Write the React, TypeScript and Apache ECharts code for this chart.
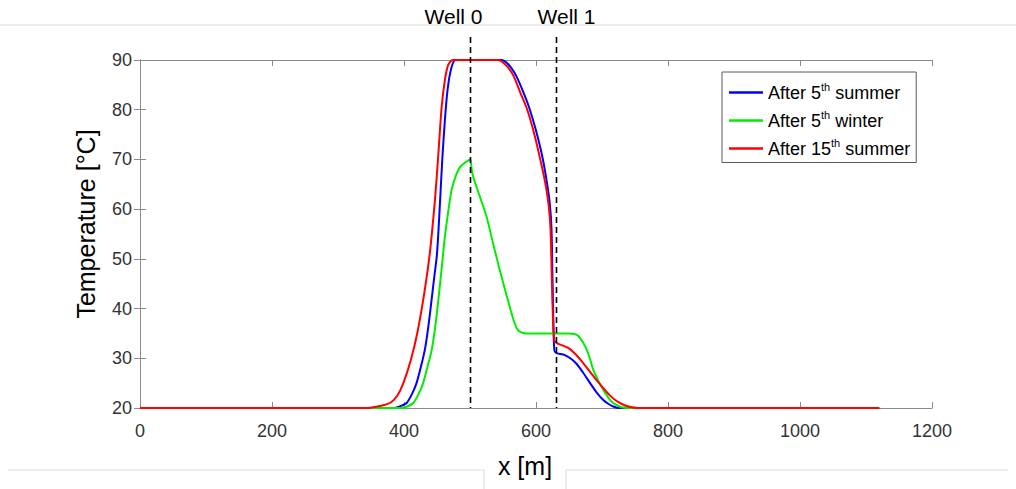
import React, { useEffect, useRef } from "react";
import * as echarts from "echarts";

// ---- data ----
const seriesNames = ["After 5th summer", "After 5th winter", "After 15th summer"];
const seriesColors = ["#0000ff", "#00ee00", "#ff0000"];

const xBlue = [0, 385, 395, 404, 412, 419, 426, 432, 437, 442, 446, 450, 454, 458, 462, 466, 471, 478, 548, 556, 563, 570, 580, 590, 600, 610, 617, 621, 623.5, 625, 626.5, 628, 632, 640, 646, 654, 662, 672, 682, 692, 702, 710, 717, 725, 1120];
const tBlue = [20, 20, 20.4, 21, 22.8, 25, 28.5, 32, 36.5, 42, 46.5, 51, 60, 70, 78, 84, 88, 90, 90, 89.4, 88.3, 86.8, 83.8, 80.3, 75.8, 70.3, 65, 61, 56, 46, 36, 31.5, 31, 30.8, 30.5, 29.8, 28.8, 27, 25, 23.1, 21.6, 20.8, 20.3, 20, 20];

const xGreen = [0, 395, 405, 414, 422, 429, 436, 442, 447, 452, 457, 462, 467, 472, 478, 485, 493, 500, 503, 506, 508, 515, 525, 535, 545, 556, 562, 566, 571, 576, 585, 596, 630, 650, 658, 663, 667, 672, 677, 682, 687, 695, 702, 710, 717, 725, 732, 742, 1120];
const tGreen = [20, 20, 20.3, 21, 22.8, 25, 28.5, 31.7, 36, 41.7, 48, 54.5, 59.5, 63.8, 66.5, 68.5, 69.4, 70, 67.5, 66, 65.2, 62.5, 58.5, 53.1, 47.8, 42.4, 39.5, 37.7, 36, 35.3, 35, 35, 35, 35, 34.9, 34.6, 34, 33, 31.7, 29.8, 27.6, 25.3, 23.6, 22, 21, 20.4, 20.1, 20, 20];

const xRed = [0, 345, 360, 370, 380, 390, 399, 410, 420, 430, 439, 447, 452, 457, 462, 467, 474, 543, 550, 557, 566, 576, 586, 596, 606, 614, 619, 622, 624, 626, 628, 632, 640, 650, 660, 670, 680, 690, 700, 710, 720, 730, 740, 755, 1120];
const tRed = [20, 20, 20.3, 20.6, 21.1, 22.5, 25, 29.5, 35, 42.5, 51, 62, 71, 80.5, 86, 89, 90, 90, 89.5, 88.6, 86.8, 83.5, 80.3, 75.8, 70.3, 65.3, 61, 56, 46, 37, 33.5, 33, 32.6, 32, 30.8, 29.3, 27.6, 25.9, 24.3, 22.8, 21.6, 20.8, 20.3, 20, 20];

const wellNames = ["Well 0", "Well 1"];
const wellX = [500, 630];

const xTicks = { min: 0, max: 1200, interval: 200 };
const yTicks = { min: 20, max: 90, interval: 10 };

const seriesX = [xBlue, xGreen, xRed];
const seriesT = [tBlue, tGreen, tRed];

const FONT = "'Liberation Sans', Arial, Helvetica, sans-serif";
const AXIS_COLOR = "#8a8a8a";
const TEXT_COLOR = "#333333";
const FRAME_GRAY = "#d9d9d9";

function legendFmt(name: string) {
  const m = name.match(/^(After \d+)(th)( \w+)$/);
  if (!m) return name;
  return `{a|${m[1]}}{s|${m[2]}}{a|${m[3]}}`;
}

export default function App() {
  const ref = useRef<HTMLDivElement>(null);

  useEffect(() => {
    if (!ref.current) return;
    const chart = echarts.init(ref.current, null, { renderer: "svg" });

    const axisCommon = {
      axisLine: { show: true, lineStyle: { color: AXIS_COLOR, width: 1 } },
      axisTick: { show: true, inside: true, length: 6, lineStyle: { color: AXIS_COLOR } },
      splitLine: { show: false },
    };

    const option: any = {
      animation: false,
      backgroundColor: "#ffffff",
      textStyle: { fontFamily: FONT },
      grid: { left: 140, right: 84, top: 60, bottom: 81, containLabel: false },
      xAxis: [
        {
          type: "value",
          ...xTicks,
          ...axisCommon,
          name: "x [m]",
          nameLocation: "middle",
          nameGap: 45,
          nameTextStyle: { fontSize: 25, color: "#000", fontFamily: FONT, padding: [0, 22, 0, 0] },
          axisLabel: { fontSize: 18, color: TEXT_COLOR, margin: 14, fontFamily: FONT, formatter: (v: number) => String(v) },
        },
        {
          type: "value",
          position: "top",
          ...xTicks,
          ...axisCommon,
          axisLabel: { show: false },
        },
      ],
      yAxis: [
        {
          type: "value",
          ...yTicks,
          ...axisCommon,
          name: "Temperature [°C]",
          nameLocation: "middle",
          nameGap: 42,
          nameTextStyle: { fontSize: 25, color: "#000", fontFamily: FONT, padding: [0, 0, 0, 20] },
          axisLabel: { fontSize: 18, color: TEXT_COLOR, margin: 8, fontFamily: FONT },
        },
        {
          type: "value",
          position: "right",
          ...yTicks,
          ...axisCommon,
          axisLabel: { show: false },
        },
      ],
      legend: {
        orient: "vertical",
        left: 722,
        top: 72,
        width: 197,
        padding: [9, 6, 5, 7],
        itemGap: 7.5,
        itemWidth: 34,
        itemHeight: 2.5,
        icon: "rect",
        backgroundColor: "#ffffff",
        borderColor: "#5a5a5a",
        borderWidth: 1,
        formatter: legendFmt,
        textStyle: {
          color: "#000",
          fontFamily: FONT,
          rich: {
            a: { fontSize: 18, color: "#000", fontFamily: FONT },
            s: { fontSize: 11, color: "#000", fontFamily: FONT, padding: [0, 0, 12, 0] },
          },
        },
        data: seriesNames,
      },
      series: seriesNames.map((name, i) => ({
        name,
        type: "line",
        data: seriesX[i].map((x, j) => [x, seriesT[i][j]]),
        showSymbol: false,
        symbol: "none",
        smooth: 0.25,
        color: seriesColors[i],
        lineStyle: { color: seriesColors[i], width: 2 },
        z: 2 + i,
      })),
    };

    chart.setOption(option);

    const yBottom = chart.convertToPixel({ yAxisIndex: 0 }, yTicks.min) as number;
    const labelDx = [-17, 10];
    const graphics: any[] = [
      { type: "line", shape: { x1: 0, y1: 25, x2: 1016, y2: 25 }, style: { stroke: FRAME_GRAY, lineWidth: 1 }, silent: true },
      { type: "line", shape: { x1: 8, y1: 470, x2: 484, y2: 470 }, style: { stroke: FRAME_GRAY, lineWidth: 1 }, silent: true },
      { type: "line", shape: { x1: 484, y1: 470, x2: 484, y2: 489 }, style: { stroke: FRAME_GRAY, lineWidth: 1 }, silent: true },
      { type: "line", shape: { x1: 566, y1: 470, x2: 566, y2: 489 }, style: { stroke: FRAME_GRAY, lineWidth: 1 }, silent: true },
      { type: "line", shape: { x1: 566, y1: 470, x2: 1008, y2: 470 }, style: { stroke: FRAME_GRAY, lineWidth: 1 }, silent: true },
    ];
    wellX.forEach((wx, i) => {
      const px = Math.round(chart.convertToPixel({ xAxisIndex: 0 }, wx) as number) + 0.5;
      graphics.push({
        type: "line",
        z: 10,
        shape: { x1: px, y1: 37, x2: px, y2: yBottom },
        style: { stroke: "#000", lineWidth: 1.6, lineDash: [6, 4] },
        silent: true,
      });
      graphics.push({
        type: "text",
        z: 10,
        x: px + labelDx[i],
        y: 16,
        style: {
          text: wellNames[i],
          fontSize: 21,
          fontFamily: FONT,
          fill: "#000",
          align: "center",
          verticalAlign: "middle",
        },
      });
    });
    chart.setOption({ graphic: graphics });

    return () => chart.dispose();
  }, []);

  return (
    <div
      ref={ref}
      style={{ position: "fixed", left: 0, top: 0, width: 1016, height: 489, background: "#fff" }}
    />
  );
}
